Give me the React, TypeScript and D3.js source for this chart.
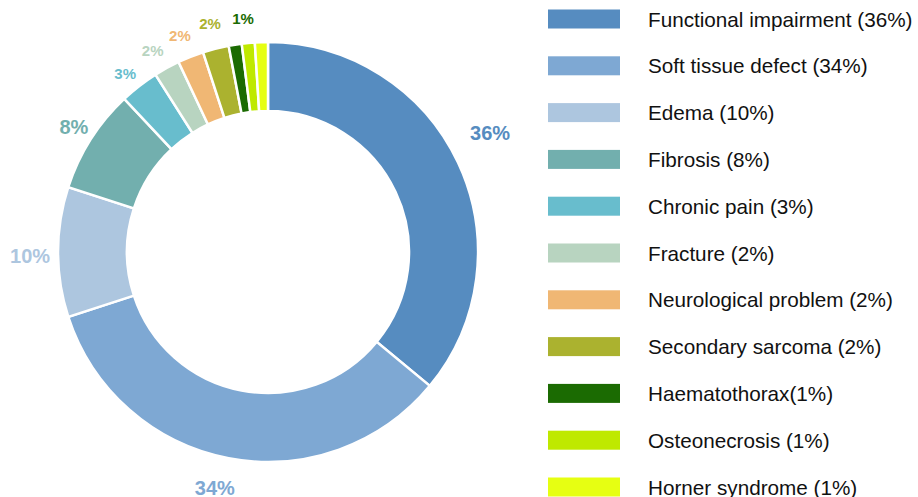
import React, { useRef, useEffect } from "react";
import * as d3 from "d3";

const categories = [
  "Functional impairment",
  "Soft tissue defect",
  "Edema",
  "Fibrosis",
  "Chronic pain",
  "Fracture",
  "Neurological problem",
  "Secondary sarcoma",
  "Haematothorax",
  "Osteonecrosis",
  "Horner syndrome",
];
const values = [36, 34, 10, 8, 3, 2, 2, 2, 1, 1, 1];
const legendLabels = [
  "Functional impairment (36%)",
  "Soft tissue defect (34%)",
  "Edema (10%)",
  "Fibrosis (8%)",
  "Chronic pain (3%)",
  "Fracture (2%)",
  "Neurological problem (2%)",
  "Secondary sarcoma (2%)",
  "Haematothorax(1%)",
  "Osteonecrosis (1%)",
  "Horner syndrome (1%)",
];
// slice labels; empty = no label drawn
const sliceLabels = ["36%", "34%", "10%", "8%", "3%", "2%", "2%", "2%", "1%", "", ""];

const colors = [
  "#568cc0", "#7ea8d3", "#adc6df", "#72afae", "#68bdcd", "#b8d4c0",
  "#f0b774", "#abb22f", "#1b6b02", "#bfe900", "#e6ff12",
];

// small nudges for the outside labels (angle in degrees, radius in px)
const labelShift = [-3, 1.9, -1, 0.4, -0.8, -1, -0.5, 0.2, 2.9, 0, 0];
const labelRadius = [252, 242, 238, 231, 229, 232, 234, 236, 235, 0, 0];

function App() {
  const svgRef = useRef(null);

  useEffect(() => {
    const width = 918;
    const height = 497;
    const cx = 268;
    const cy = 252;
    const outerR = 210;
    const innerR = 141;

    const svg = d3.select(svgRef.current);
    svg.selectAll("*").remove();

    const data = categories.map((c, i) => ({ name: c, value: values[i], i }));

    const pie = d3.pie().value((d) => d.value).sort(null);
    const arcs = pie(data);
    const arc = d3.arc().innerRadius(innerR).outerRadius(outerR);

    const g = svg.append("g").attr("transform", `translate(${cx},${cy})`);

    g.selectAll("path.slice")
      .data(arcs)
      .enter()
      .append("path")
      .attr("class", "slice")
      .attr("d", (d) => arc(d))
      .attr("fill", (d) => colors[d.index])
      .attr("stroke", "#fff")
      .attr("stroke-width", 2.5);

    // outside labels
    g.selectAll("text.pct")
      .data(arcs.filter((d) => sliceLabels[d.index] !== ""))
      .enter()
      .append("text")
      .attr("class", "pct")
      .attr("transform", (d) => {
        const r = labelRadius[d.index];
        const a = (d.startAngle + d.endAngle) / 2 + (labelShift[d.index] * Math.PI) / 180;
        return `translate(${r * Math.sin(a)},${-r * Math.cos(a)})`;
      })
      .attr("text-anchor", "middle")
      .attr("dominant-baseline", "central")
      .style("font-family", "'Liberation Sans', Arial, sans-serif")
      .style("font-weight", 700)
      .style("font-size", (d) => (d.index < 4 ? "20px" : "15px"))
      .style("fill", (d) => colors[d.index])
      .text((d) => sliceLabels[d.index]);

    // legend
    const y = d3.scalePoint().domain(categories).range([19, 487]);
    const leg = svg
      .selectAll("g.leg")
      .data(data)
      .enter()
      .append("g")
      .attr("class", "leg")
      .attr("transform", (d) => `translate(0,${y(d.name)})`);

    leg
      .append("rect")
      .attr("x", 548)
      .attr("y", -9.5)
      .attr("width", 72)
      .attr("height", 19)
      .attr("fill", (d) => colors[d.i]);

    leg
      .append("text")
      .attr("x", 648)
      .attr("y", 0)
      .attr("dominant-baseline", "central")
      .style("font-family", "'Liberation Sans', Arial, sans-serif")
      .style("font-size", "20.7px")
      .style("fill", "#111")
      .text((d) => legendLabels[d.i]);

    svg.attr("width", width).attr("height", height);
  }, []);

  return (
    <svg
      ref={svgRef}
      width={918}
      height={497}
      style={{ position: "absolute", left: 0, top: 0, background: "#fff" }}
    />
  );
}

export default App;
